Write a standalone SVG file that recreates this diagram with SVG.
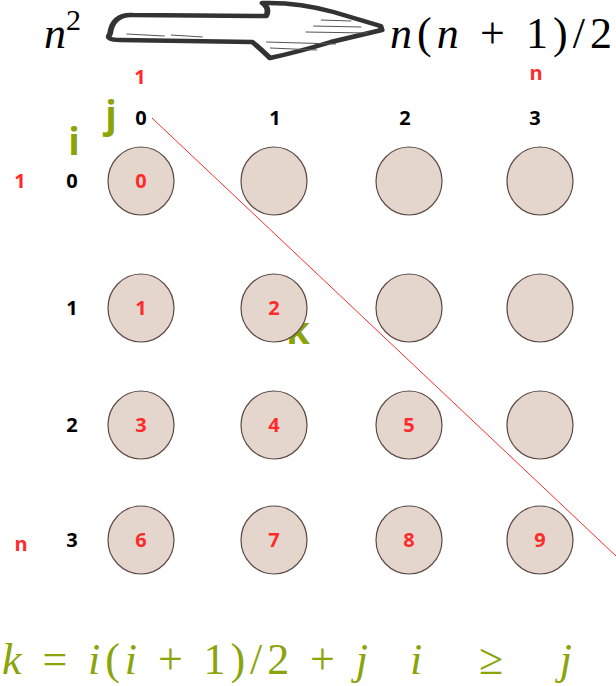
<svg xmlns="http://www.w3.org/2000/svg" width="616" height="686" viewBox="0 0 616 686">
<style>
.n{fill:#e4d5cd;stroke:#5b4a44;stroke-width:1.2}
.b{font-family:"Open Sans","DejaVu Sans",sans-serif;font-weight:bold;font-size:20px;text-anchor:middle}
.r{fill:#ff2b2b}
.k{fill:#000}
.g{fill:#8aa40a;font-size:38px}
.m{font-family:"Liberation Serif",serif;font-style:italic;font-size:44px}
.mg{font-family:"Liberation Serif",serif;font-style:italic;font-size:44px;fill:#8aa40a}
</style>
<text class="m" x="44" y="48">n<tspan font-size="30" font-style="normal" dy="-18">2</tspan></text>
<text class="m" x="390" y="48" textLength="222">n<tspan font-style="normal">(</tspan>n<tspan font-style="normal"> + 1)/2</tspan></text>
<g id="arrow" fill="#fff" stroke="#333" stroke-width="4.5" stroke-linejoin="round" transform="translate(110 0) scale(1.27 1) translate(-102 0)">
<path d="M102,34 Q104,14 120,15 L225,16 Q228,8 222,3 Q250,2 278,12 L315,26 L316,30 L276,42 Q250,52 228,58 Q220,48 214,42 L110,40 Q98,40 102,34 Z"/>
<g stroke="#555" stroke-width="0.8"><line x1="268" y1="20" x2="292" y2="21"/><line x1="262" y1="26" x2="300" y2="27"/><line x1="256" y1="32" x2="305" y2="33"/><line x1="115" y1="34" x2="145" y2="36"/><line x1="150" y1="35" x2="175" y2="37"/><line x1="225" y1="42" x2="280" y2="44"/><line x1="228" y1="48" x2="265" y2="50"/></g>
</g>
<g id="edges"><line x1="152" y1="118" x2="616" y2="556" stroke="#ff2b2b" stroke-width="1"/></g>
<g id="labels">
<text class="b r" x="140" y="84">1</text>
<text class="b r" x="536" y="80">n</text>
<text class="b g" x="111" y="128">j</text>
<text class="b g" x="74" y="155">i</text>
<text class="b k" x="141" y="125">0</text>
<text class="b k" x="275" y="125">1</text>
<text class="b k" x="405" y="125">2</text>
<text class="b k" x="535" y="125">3</text>
<text class="b r" x="20" y="188">1</text>
<text class="b r" x="21" y="551">n</text>
<text class="b k" x="72" y="188">0</text>
<text class="b k" x="72" y="315">1</text>
<text class="b k" x="72" y="432">2</text>
<text class="b k" x="72" y="547">3</text>
<text class="b g" x="298" y="344">k</text>
</g>
<g id="n00"><ellipse class="n" cx="141" cy="181" rx="33" ry="34"/><text class="b r" x="141" y="188">0</text></g>
<g id="n01"><ellipse class="n" cx="274" cy="181" rx="33" ry="34"/></g>
<g id="n02"><ellipse class="n" cx="409" cy="181" rx="33" ry="34"/></g>
<g id="n03"><ellipse class="n" cx="540" cy="181" rx="33" ry="34"/></g>
<g id="n10"><ellipse class="n" cx="141" cy="308" rx="33" ry="34"/><text class="b r" x="141" y="315">1</text></g>
<g id="n11"><ellipse class="n" cx="274" cy="308" rx="33" ry="34"/><text class="b r" x="274" y="315">2</text></g>
<g id="n12"><ellipse class="n" cx="409" cy="308" rx="33" ry="34"/></g>
<g id="n13"><ellipse class="n" cx="540" cy="308" rx="33" ry="34"/></g>
<g id="n20"><ellipse class="n" cx="141" cy="425" rx="33" ry="34"/><text class="b r" x="141" y="432">3</text></g>
<g id="n21"><ellipse class="n" cx="274" cy="425" rx="33" ry="34"/><text class="b r" x="274" y="432">4</text></g>
<g id="n22"><ellipse class="n" cx="409" cy="425" rx="33" ry="34"/><text class="b r" x="409" y="432">5</text></g>
<g id="n23"><ellipse class="n" cx="540" cy="425" rx="33" ry="34"/></g>
<g id="n30"><ellipse class="n" cx="141" cy="540" rx="33" ry="34"/><text class="b r" x="141" y="547">6</text></g>
<g id="n31"><ellipse class="n" cx="274" cy="540" rx="33" ry="34"/><text class="b r" x="274" y="547">7</text></g>
<g id="n32"><ellipse class="n" cx="409" cy="540" rx="33" ry="34"/><text class="b r" x="409" y="547">8</text></g>
<g id="n33"><ellipse class="n" cx="540" cy="540" rx="33" ry="34"/><text class="b r" x="540" y="547">9</text></g>
<text class="mg" x="2" y="674" textLength="366">k<tspan font-style="normal"> = </tspan>i<tspan font-style="normal">(</tspan>i<tspan font-style="normal"> + 1)/2 + </tspan>j</text>
<text class="mg" x="410" y="674" textLength="162">i<tspan font-style="normal"> ≥ </tspan>j</text>
</svg>
